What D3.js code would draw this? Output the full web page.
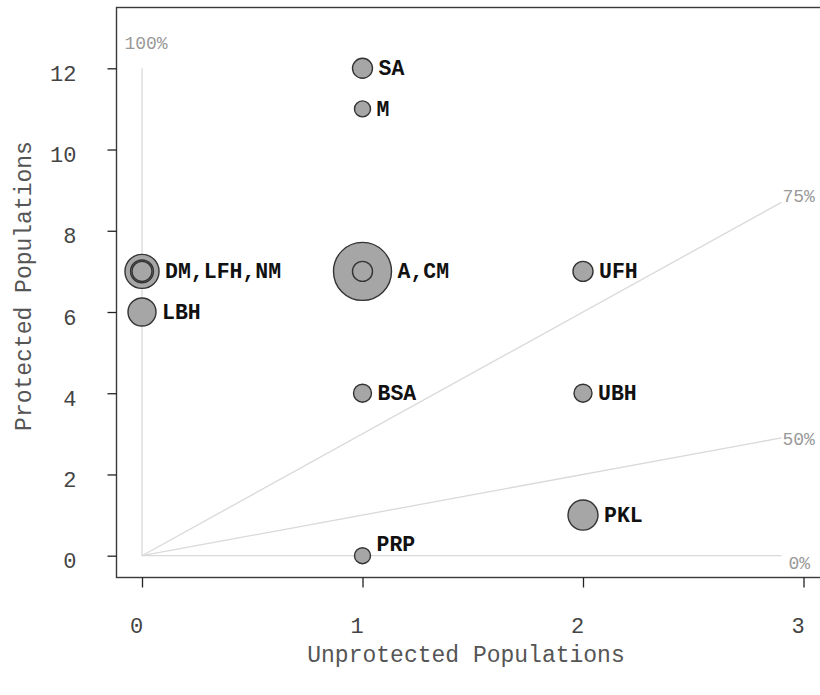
<!DOCTYPE html>
<html>
<head>
<meta charset="utf-8">
<script src="https://cdn.jsdelivr.net/npm/d3@7/dist/d3.min.js"></script>
<style>
  html, body { margin: 0; padding: 0; background: #fff; }
  svg { display: block; }
  text { font-family: "Courier New", "Liberation Mono", monospace; }
</style>
</head>
<body>
<svg id="chart" width="820" height="695"></svg>
<script>
// Habitat codes with counts of unprotected / protected populations
const codes       = ["A", "DM", "LFH", "NM", "PKL", "LBH", "SA", "CM", "UFH", "BSA", "UBH", "M", "PRP"];
const unprotected = [1,   0,    0,     0,    2,     0,     1,    1,    2,     1,     2,     1,   1];
const protectedN  = [7,   7,    7,     7,    1,     6,     12,   7,    7,     4,     4,     11,  0];
const bubbleSize  = [8.4, 2.9,  1.3,   1.0,  2.25,  1.96,  1.0,  1.0,  1.0,   0.81,  0.81,  0.64, 0.64];

// Reference lines: share of populations that are protected
const guideLabels = ["100%", "75%", "50%", "0%"];
const guideShares = [1.0, 0.75, 0.5, 0.0];

const xTicks = [0, 1, 2, 3];
const yTicks = [0, 2, 4, 6, 8, 10, 12];

const svg = d3.select("#chart");
const box = { left: 116.5, top: 7.5, right: 820, bottom: 577.5 };

const x = d3.scaleLinear().domain([0, 3]).range([142, 803.5]);
const y = d3.scaleLinear().domain([0, 12]).range([555.7, 68.3]);
const r = d3.scaleSqrt().domain([0, 8.4]).range([0, 29]);

// Plot frame
svg.append("rect")
  .attr("x", box.left).attr("y", box.top)
  .attr("width", box.right - box.left + 2).attr("height", box.bottom - box.top)
  .attr("fill", "none").attr("stroke", "#3a3a3a").attr("stroke-width", 1.4);

// Axes (ticks outside the frame)
const xAxis = svg.append("g")
  .attr("transform", `translate(0,${box.bottom})`)
  .call(d3.axisBottom(x).tickValues(xTicks).tickFormat(d3.format("d")).tickSize(10).tickPadding(30));
const yAxis = svg.append("g")
  .attr("transform", `translate(${box.left},0)`)
  .call(d3.axisLeft(y).tickValues(yTicks).tickFormat(d3.format("d")).tickSize(9).tickPadding(31));
[xAxis, yAxis].forEach(g => {
  g.select(".domain").remove();
  g.selectAll(".tick line").attr("stroke", "#222").attr("stroke-width", 1.3);
  g.selectAll(".tick text")
    .attr("fill", "#444")
    .style("font-family", '"Courier New", "Liberation Mono", monospace')
    .style("font-size", "22px");
});
xAxis.selectAll(".tick text").attr("dx", -6);
yAxis.selectAll(".tick text").attr("dy", "0.55em");

// Axis titles
svg.append("text")
  .attr("x", 466).attr("y", 662)
  .attr("text-anchor", "middle")
  .attr("fill", "#555").style("font-size", "23px")
  .text("Unprotected Populations");
svg.append("text")
  .attr("transform", "translate(31,286) rotate(-90)")
  .attr("text-anchor", "middle")
  .attr("fill", "#555").style("font-size", "23px")
  .text("Protected Populations");

// Guide lines from the origin
const guideEnd = 2.9;
const gLayer = svg.append("g");
guideShares.forEach((share, i) => {
  let x2, y2;
  if (share >= 1) { x2 = 0; y2 = 12; }
  else { x2 = guideEnd; y2 = guideEnd * share / (1 - share); }
  gLayer.append("line")
    .attr("x1", x(0)).attr("y1", y(0))
    .attr("x2", x(x2)).attr("y2", y(y2))
    .attr("stroke", "#d9d9d9").attr("stroke-width", 1.3);
  const t = gLayer.append("text")
    .attr("fill", "#999").style("font-size", "18px")
    .text(guideLabels[i]);
  if (share >= 1) {
    t.attr("x", x(x2) + 4).attr("y", y(y2) - 19).attr("text-anchor", "middle");
  } else {
    const dy = share === 0 ? 13 : (share >= 0.75 ? 0 : 7);
    const dx = share === 0 ? 7 : 1;
    t.attr("x", x(x2) + dx).attr("y", y(y2) + dy).attr("text-anchor", "start");
  }
});

// Bubbles, largest first so that smaller ones stay visible
const pts = codes.map((c, i) => ({
  code: c, u: unprotected[i], p: protectedN[i], s: bubbleSize[i]
}));
const sorted = pts.slice().sort((a, b) => b.s - a.s);
svg.append("g").selectAll("circle")
  .data(sorted)
  .join("circle")
  .attr("cx", d => x(d.u))
  .attr("cy", d => y(d.p))
  .attr("r", d => r(d.s))
  .attr("fill", "#a6a6a6")
  .attr("stroke", "#333")
  .attr("stroke-width", 1.4);

// One label per location, codes joined alphabetically
const groups = d3.groups(sorted, d => d.u + "," + d.p);
svg.append("g").selectAll("text")
  .data(groups)
  .join("text")
  .attr("x", ([, g]) => x(g[0].u) + d3.max(g, d => r(d.s)) + 6)
  .attr("y", ([, g]) => y(g[0].p) + (g[0].p === 0 ? -5 : 7))
  .attr("fill", "#111")
  .style("font-size", "21.5px")
  .style("font-weight", "bold")
  .text(([, g]) => g.map(d => d.code).sort((a, b) => a.localeCompare(b)).join(","));
</script>
</body>
</html>
